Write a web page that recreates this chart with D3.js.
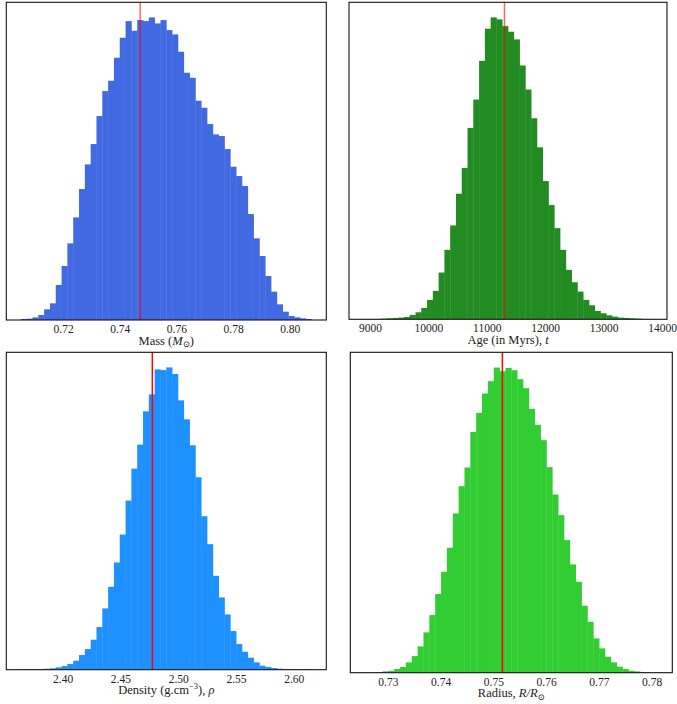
<!DOCTYPE html>
<html>
<head>
<meta charset="utf-8">
<script src="https://cdn.jsdelivr.net/npm/d3@7"></script>
<style>
  body { margin: 0; background: #fff; }
  svg { display: block; }
  text { font-family: "Liberation Serif", "DejaVu Serif", serif; fill: #222; }
</style>
</head>
<body>
<svg id="chart" width="677" height="704"></svg>
<script>
// ---------------- DATA ----------------
// Histogram counts (relative), 50 equal bins over [min, max] of each sample
const massCounts = [3,4,8,15,32,50,105,162,230,308,393,467,528,612,687,718,787,847,897,868,
  900,897,908,890,900,870,857,805,742,727,658,637,588,557,552,513,460,432,402,318,
  245,192,132,85,47,25,12,8,5,3];
const massRange = [0.70507, 0.80778];
const massTicks = [0.72, 0.74, 0.76, 0.78, 0.80];
const massBest = 0.7472;

const ageCounts = [1,1,1,2,3,4,5,7,13,21,34,58,85,140,208,281,376,453,573,658,
  774,870,904,898,878,861,838,760,688,602,515,414,342,273,208,148,111,83,58,42,
  25,18,12,8,5,4,3,2,1,1];
const ageRange = [8890, 13837];
const ageTicks = [9000, 10000, 11000, 12000, 13000, 14000];
const ageBest = 11303;

const densityCounts = [1,1,1,2,3,4,7,11,17,27,44,62,90,128,184,249,322,406,508,604,
  676,776,827,902,900,908,888,809,752,674,578,461,377,282,217,166,116,77,54,36,
  22,12,8,5,3,2,2,1,1,1];
const densityRange = [2.3638, 2.6156];
const densityTicks = [2.40, 2.45, 2.50, 2.55, 2.60];
const densityBest = 2.4776;

const radiusCounts = [1,1,2,4,6,11,17,31,50,79,121,173,236,303,375,478,560,616,723,780,
  838,875,916,905,915,908,881,854,792,744,698,617,535,473,398,325,273,201,153,103,
  73,48,31,18,11,6,4,2,1,1];
const radiusRange = [0.72564, 0.78114];
const radiusTicks = [0.73, 0.74, 0.75, 0.76, 0.77, 0.78];
const radiusBest = 0.7517;

// Axis label pieces
const massLabel = [{t: "Mass ("}, {t: "M", i: true}, {t: "\u2299", sub: true}, {t: ")"}];
const ageLabel = [{t: "Age (in Myrs), "}, {t: "t", i: true}];
const densityLabel = [{t: "Density (g.cm"}, {t: "\u22123", sup: true}, {t: "), "}, {t: "\u03C1", i: true}];
const radiusLabel = [{t: "Radius, "}, {t: "R/R", i: true}, {t: "\u2299", sub: true}];

// ---------------- LAYOUT ----------------
const panels = [
  { counts: massCounts, range: massRange, ticks: massTicks, fmt: d3.format(".2f"), best: massBest,
    color: "#4169E1", lineOpacity: 0.6, label: massLabel,
    box: { left: 6.3, right: 326.3, top: 2.3, bottom: 320 } },
  { counts: ageCounts, range: ageRange, ticks: ageTicks, fmt: d3.format("d"), best: ageBest,
    color: "#228B22", lineOpacity: 0.6, label: ageLabel,
    box: { left: 349, right: 667, top: 2.3, bottom: 319.3 } },
  { counts: densityCounts, range: densityRange, ticks: densityTicks, fmt: d3.format(".2f"), best: densityBest,
    color: "#1E90FF", lineOpacity: 1, label: densityLabel,
    box: { left: 6.3, right: 326.3, top: 352.3, bottom: 669.7 } },
  { counts: radiusCounts, range: radiusRange, ticks: radiusTicks, fmt: d3.format(".2f"), best: radiusBest,
    color: "#32CD32", lineOpacity: 1, label: radiusLabel,
    box: { left: 350.3, right: 672.3, top: 352.3, bottom: 672.7 } }
];

const svg = d3.select("#chart");
svg.append("rect").attr("width", 677).attr("height", 704).attr("fill", "#fff");

panels.forEach(p => {
  const n = p.counts.length;
  const span = p.range[1] - p.range[0];
  const margin = span * 0.05;
  const x = d3.scaleLinear()
    .domain([p.range[0] - margin, p.range[1] + margin])
    .range([p.box.left, p.box.right]);
  const maxC = d3.max(p.counts);
  const y = d3.scaleLinear()
    .domain([0, maxC * 1.05])
    .range([p.box.bottom, p.box.top]);
  const binW = span / n;
  const bins = p.counts.map((c, i) => ({ x0: p.range[0] + i * binW, x1: p.range[0] + (i + 1) * binW, c }));

  const g = svg.append("g");
  const clipId = "clip" + Math.round(p.box.left) + "_" + Math.round(p.box.top);
  g.append("clipPath").attr("id", clipId)
    .append("rect")
    .attr("x", p.box.left).attr("y", p.box.top)
    .attr("width", p.box.right - p.box.left).attr("height", p.box.bottom - p.box.top);

  const plot = g.append("g").attr("clip-path", `url(#${clipId})`);
  plot.selectAll("rect.bar").data(bins).join("rect")
    .attr("class", "bar")
    .attr("x", d => x(d.x0))
    .attr("width", (d, i) => x(d.x1) - x(d.x0) + (i < n - 1 ? 0.35 : 0))
    .attr("y", d => y(d.c))
    .attr("height", d => y(0) - y(d.c))
    .attr("fill", p.color);

  plot.append("line")
    .attr("x1", x(p.best)).attr("x2", x(p.best))
    .attr("y1", p.box.top).attr("y2", p.box.bottom)
    .attr("stroke", "red").attr("stroke-width", 1.5)
    .attr("stroke-opacity", p.lineOpacity);

  // x axis (tick labels only, matplotlib style)
  const axis = d3.axisBottom(x).tickValues(p.ticks).tickFormat(p.fmt).tickSize(0).tickPadding(0);
  const ax = g.append("g").attr("transform", `translate(0,${p.box.bottom})`).call(axis);
  ax.select(".domain").remove();
  ax.selectAll(".tick text")
    .attr("y", 13).attr("dy", null)
    .attr("font-size", 11.5)
    .attr("font-family", "'Liberation Serif', 'DejaVu Serif', serif")
    .attr("fill", "#222");

  // frame
  g.append("rect")
    .attr("x", p.box.left).attr("y", p.box.top)
    .attr("width", p.box.right - p.box.left).attr("height", p.box.bottom - p.box.top)
    .attr("fill", "none").attr("stroke", "#111").attr("stroke-width", 1.1);

  // axis label
  const lab = g.append("text")
    .attr("x", (p.box.left + p.box.right) / 2)
    .attr("y", p.box.bottom + 24.5)
    .attr("text-anchor", "middle")
    .attr("font-size", 12.5);
  let shift = 0;
  p.label.forEach(part => {
    const ts = lab.append("tspan").text(part.t);
    let target = 0;
    if (part.sub) { target = 2.5; ts.attr("font-size", 8.5); }
    if (part.sup) { target = -5; ts.attr("font-size", 8.5); }
    ts.attr("dy", target - shift);
    shift = target;
    if (part.i) ts.attr("font-style", "italic");
  });
});
</script>
</body>
</html>
